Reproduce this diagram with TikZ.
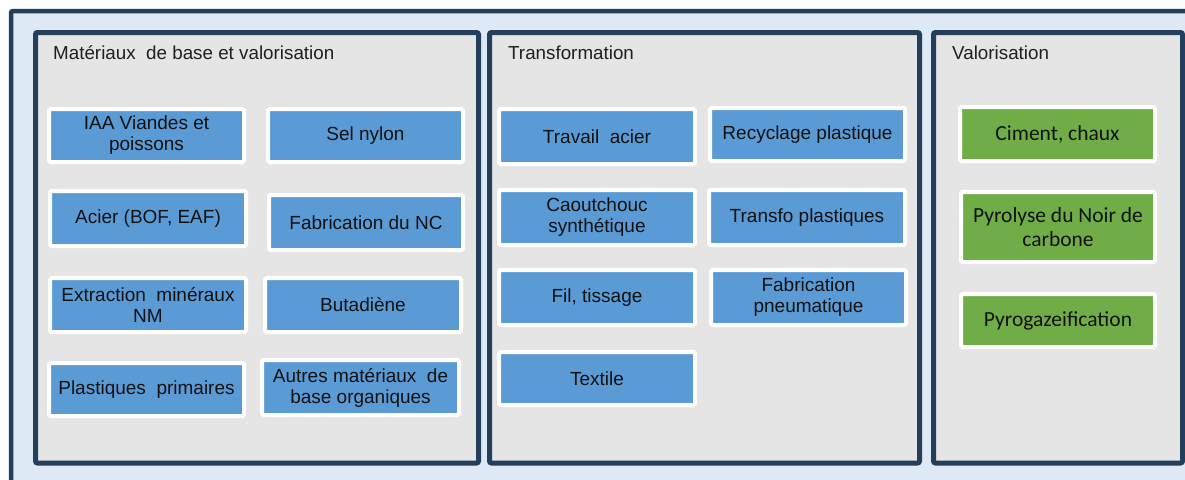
\documentclass[tikz,border=0pt]{standalone}
\usepackage{fontspec}
\setmainfont{Liberation Sans}
\newfontfamily\calibfont{Carlito}
\definecolor{frameblue}{HTML}{DDEAF6}
\definecolor{darkline}{HTML}{243F5C}
\definecolor{panelgray}{HTML}{E5E5E5}
\definecolor{boxblue}{HTML}{5B9BD5}
\definecolor{boxgreen}{HTML}{70AD47}
\definecolor{txt}{HTML}{111111}
\definecolor{headtxt}{HTML}{1F1F1F}
\tikzset{
  outerframe/.style={draw=darkline, fill=frameblue, line width=4.5pt},
  panel/.style={draw=darkline, fill=panelgray, line width=5pt, rounded corners=2pt, inner sep=0pt},
  heading/.style={anchor=base west, inner sep=0pt, text=headtxt, font=\fontsize{18.8}{21}\selectfont},
  box/.style={draw=white, line width=4pt, fill=boxblue, rounded corners=1.5pt, inner sep=0pt,
    align=center, text=txt, font=\fontsize{19}{21}\selectfont},
  gbox/.style={box, fill=boxgreen, font=\calibfont\fontsize{21.5}{23.5}\selectfont},
}
\begin{document}
\begin{tikzpicture}[x=1pt,y=-1pt]
\useasboundingbox (0,0) rectangle (1185,479);
\clip (0,0) rectangle (1185,479);
\fill[white] (0,0) rectangle (1185,479);
\draw[outerframe, rounded corners=2pt] (11,11) rectangle (1210,505);

% panels
\node[panel, minimum width=443pt, minimum height=430.5pt] (p1) at (257,247.75) {};
\node[panel, minimum width=430pt, minimum height=430.5pt] (p2) at (704.5,247.75) {};
\node[panel, minimum width=249pt, minimum height=430.5pt] (p3) at (1058,247.75) {};

% headings
\node[heading] (h1) at (53,59) {Matériaux\ \ de\ base\ et\ valorisation};
\node[heading] (h2) at (508,59) {Transformation};
\node[heading] (h3) at (952,59) {Valorisation};

% panel 1
\node[box, minimum width=195pt, minimum height=53pt] (iaa) at (146.5,135.5) {IAA Viandes et\\poissons};
\node[box, minimum width=195pt, minimum height=53pt] (sel) at (365.5,135.5) {Sel nylon};
\node[box, minimum width=196pt, minimum height=55pt] (acier) at (148,218.5) {Acier (BOF,\ EAF)};
\node[box, minimum width=194pt, minimum height=55pt] (fabnc) at (366,222.5) {Fabrication du NC};
\node[box, minimum width=196pt, minimum height=54pt] (extr) at (148,305) {Extraction\ \ minéraux\\NM};
\node[box, minimum width=196pt, minimum height=54pt] (buta) at (363,305) {Butadiène};
\node[box, minimum width=195pt, minimum height=53pt] (plast) at (146.5,389.5) {Plastiques\ \ primaires};
\node[box, minimum width=197pt, minimum height=55pt] (autres) at (360.5,387.5) {Autres matériaux\ \ de\\base organiques};

% panel 2
\node[box, minimum width=196pt, minimum height=55pt] (travail) at (597,136.5) {Travail\ \ acier};
\node[box, minimum width=195pt, minimum height=53pt] (recyc) at (807.5,134.5) {Recyclage plastique};
\node[box, minimum width=196pt, minimum height=55pt] (caout) at (597,217.5) {Caoutchouc\\synthétique};
\node[box, minimum width=196pt, minimum height=55pt] (transfo) at (807,217.5) {Transfo plastiques};
\node[box, minimum width=196pt, minimum height=55pt] (fil) at (597,297.5) {Fil, tissage};
\node[box, minimum width=195pt, minimum height=55pt] (pneu) at (808.5,297.5) {Fabrication\\pneumatique};
\node[box, minimum width=196pt, minimum height=53pt] (textile) at (597,378.5) {Textile};

% panel 3
\node[gbox, minimum width=195pt, minimum height=54pt] (ciment) at (1057.5,134) {Ciment, chaux};
\node[gbox, minimum width=194pt, minimum height=70pt] (pyro) at (1058,227) {Pyrolyse du Noir de\\carbone};
\node[gbox, minimum width=194pt, minimum height=53pt] (pyrogaz) at (1058,320.5) {Pyrogazeification};
\end{tikzpicture}
\end{document}
